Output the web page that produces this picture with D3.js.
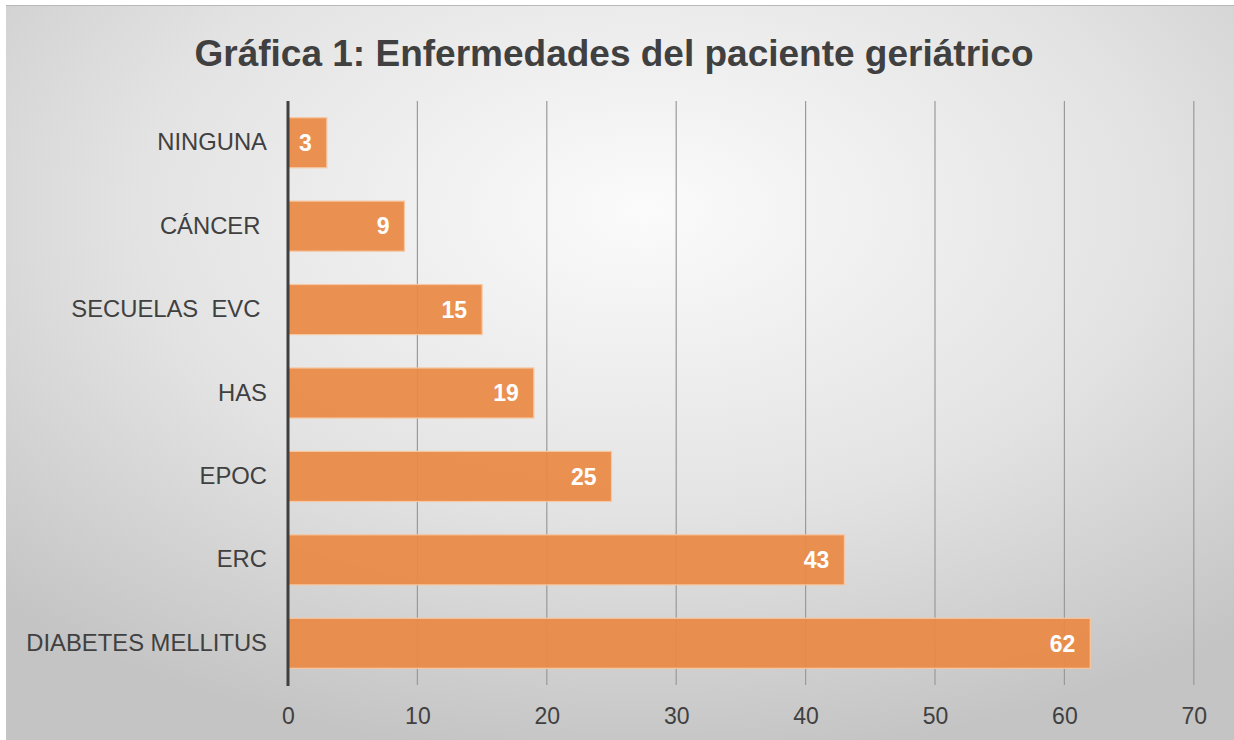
<!DOCTYPE html>
<html>
<head>
<meta charset="utf-8">
<script src="https://cdn.jsdelivr.net/npm/d3@7"></script>
<style>
  body { margin: 0; background: #fff; }
  text { font-family: "Liberation Sans", Arial, sans-serif; }
</style>
</head>
<body>
<div id="chart"></div>
<script>
// data
const categories = ["NINGUNA", "CÁNCER ", "SECUELAS  EVC ", "HAS", "EPOC", "ERC", "DIABETES MELLITUS"];
const values = [3, 9, 15, 19, 25, 43, 62];
const xTicks = [0, 10, 20, 30, 40, 50, 60, 70];
const titleText = "Gráfica 1: Enfermedades del paciente geriátrico";

const WIDTH = 1234, HEIGHT = 740;
const margin = { top: 101, right: 40, bottom: 55, left: 288 };
const FONT = "Liberation Sans, Arial, sans-serif";

const svg = d3.select("#chart").append("svg")
    .attr("width", WIDTH)
    .attr("height", HEIGHT);

// background gradient, light centre and grey edges
const defs = svg.append("defs");
const grad = defs.append("radialGradient")
    .attr("id", "bg")
    .attr("cx", "52%").attr("cy", "28%")
    .attr("r", "75%");
grad.append("stop").attr("offset", "0%").attr("stop-color", "#fbfbfb");
grad.append("stop").attr("offset", "55%").attr("stop-color", "#e3e3e3");
grad.append("stop").attr("offset", "100%").attr("stop-color", "#c4c4c4");

svg.append("rect")
    .attr("x", 6).attr("y", 5)
    .attr("width", WIDTH - 6).attr("height", HEIGHT - 5)
    .attr("fill", "url(#bg)");
svg.append("line") // thin top edge
    .attr("x1", 6).attr("x2", WIDTH)
    .attr("y1", 5.5).attr("y2", 5.5)
    .attr("stroke", "#b8b8b8");

// scales
const x = d3.scaleLinear()
    .domain([0, 70])
    .range([margin.left, margin.left + 129.4 * 7]);

const y = d3.scaleBand()
    .domain(categories)
    .range([margin.top, 685])
    .paddingInner(0.4)
    .paddingOuter(0.2);

// gridlines
svg.append("g")
    .selectAll("line")
    .data(xTicks.filter(d => d > 0))
    .enter()
    .append("line")
    .attr("x1", d => x(d)).attr("x2", d => x(d))
    .attr("y1", margin.top).attr("y2", 685)
    .attr("stroke", "#9a9a9a")
    .attr("stroke-width", 1.2);

// x axis labels
const xAxis = d3.axisBottom(x).tickValues(xTicks).tickSize(0).tickPadding(0);
const gx = svg.append("g")
    .attr("transform", "translate(0,724)")
    .call(xAxis);
gx.select(".domain").remove();
gx.selectAll("text")
    .attr("y", 0)
    .attr("dy", 0)
    .attr("font-size", "23px")
    .attr("fill", "#404040")
    .style("font-family", FONT);

// bars
svg.append("g")
    .selectAll("rect")
    .data(values)
    .enter()
    .append("rect")
    .attr("x", x(0))
    .attr("y", (d, i) => y(categories[i]))
    .attr("width", d => x(d) - x(0))
    .attr("height", y.bandwidth())
    .attr("fill", "#ea8a45")
    .attr("fill-opacity", 0.93)
    .attr("stroke", "#f6c7a2")
    .attr("stroke-width", 1.2);

// value labels
svg.append("g")
    .selectAll("text")
    .data(values)
    .enter()
    .append("text")
    .attr("x", d => x(d) - 15)
    .attr("y", (d, i) => y(categories[i]) + y.bandwidth() / 2)
    .attr("dy", "0.36em")
    .attr("text-anchor", "end")
    .attr("font-size", "23px")
    .attr("font-weight", "bold")
    .attr("fill", "#fff")
    .style("font-family", FONT)
    .text(d => d);

// y axis: category labels + dark axis line
const yAxis = d3.axisLeft(y).tickSize(0).tickPadding(21);
const gy = svg.append("g")
    .attr("transform", `translate(${margin.left},0)`)
    .call(yAxis);
gy.select(".domain").remove();
gy.selectAll("text")
    .attr("font-size", "23.8px")
    .attr("fill", "#404040")
    .style("white-space", "pre")
    .style("font-family", FONT);

svg.append("line")
    .attr("x1", x(0)).attr("x2", x(0))
    .attr("y1", margin.top).attr("y2", 686)
    .attr("stroke", "#3f3f3f")
    .attr("stroke-width", 3);

// title
svg.append("text")
    .attr("x", 614)
    .attr("y", 66)
    .attr("text-anchor", "middle")
    .attr("font-size", "37px")
    .attr("font-weight", "bold")
    .attr("fill", "#404040")
    .style("font-family", FONT)
    .text(titleText);
</script>
</body>
</html>
